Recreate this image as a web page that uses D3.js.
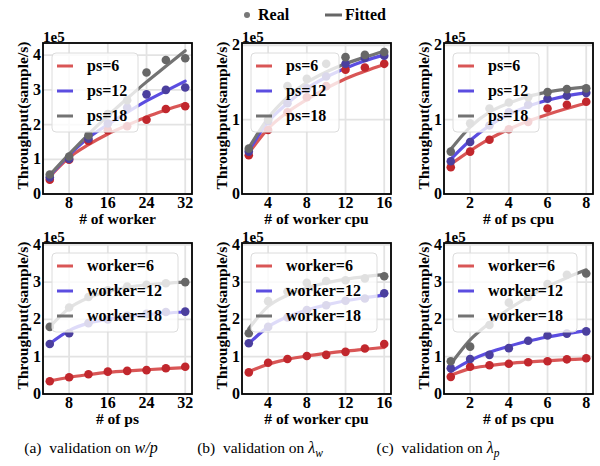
<!DOCTYPE html>
<html>
<head>
<meta charset="utf-8">
<script src="https://cdn.jsdelivr.net/npm/d3@7"></script>
<style>
  body { margin: 0; background: #fff; }
</style>
</head>
<body>
<div class="vis"></div>
<script>
// x values
const xWorker = [4, 8, 12, 16, 20, 24, 28, 32];
const xWorkerCpu = [2, 4, 6, 8, 10, 12, 14, 16];
const xPsCpu = [1, 2, 3, 4, 5, 6, 7, 8];
const xPs = [4, 8, 12, 16, 20, 24, 28, 32];

// (a) top: throughput vs # of worker (1e5)
const wRealPs6 = [0.41, 0.99, 1.53, 1.84, 1.95, 2.14, 2.45, 2.53];
const wRealPs12 = [0.48, 1.01, 1.59, 2.03, 2.49, 2.87, 3.00, 3.07];
const wRealPs18 = [0.56, 1.08, 1.69, 2.30, 2.70, 3.50, 3.86, 3.91];
const wFitPs6 = [0.50, 1.05, 1.42, 1.73, 1.98, 2.22, 2.42, 2.60];
const wFitPs12 = [0.52, 1.12, 1.62, 2.00, 2.35, 2.68, 2.97, 3.25];
const wFitPs18 = [0.55, 1.15, 1.72, 2.25, 2.75, 3.23, 3.68, 4.13];

// (b) top: vs # of worker cpu
const wcRealPs6 = [0.52, 0.86, 1.10, 1.30, 1.45, 1.67, 1.70, 1.75];
const wcRealPs12 = [0.57, 0.98, 1.22, 1.42, 1.58, 1.75, 1.83, 1.86];
const wcRealPs18 = [0.61, 1.00, 1.45, 1.55, 1.75, 1.84, 1.87, 1.91];
const wcFitPs6 = [0.55, 0.88, 1.10, 1.27, 1.42, 1.55, 1.65, 1.74];
const wcFitPs12 = [0.58, 0.97, 1.22, 1.42, 1.57, 1.69, 1.79, 1.87];
const wcFitPs18 = [0.62, 1.02, 1.30, 1.50, 1.64, 1.75, 1.84, 1.92];

// (c) top: vs # of ps cpu
const pcRealPs6 = [0.36, 0.57, 0.73, 0.87, 0.97, 1.15, 1.20, 1.24];
const pcRealPs12 = [0.44, 0.70, 0.92, 1.10, 1.20, 1.28, 1.32, 1.36];
const pcRealPs18 = [0.57, 0.95, 1.15, 1.23, 1.30, 1.37, 1.41, 1.42];
const pcFitPs6 = [0.40, 0.58, 0.74, 0.87, 0.98, 1.07, 1.15, 1.22];
const pcFitPs12 = [0.47, 0.72, 0.92, 1.07, 1.18, 1.26, 1.32, 1.36];
const pcFitPs18 = [0.60, 0.90, 1.10, 1.22, 1.31, 1.37, 1.41, 1.44];

// (a) bottom: vs # of ps
const pRealW6 = [0.34, 0.45, 0.53, 0.60, 0.62, 0.64, 0.69, 0.73];
const pRealW12 = [1.34, 1.63, 1.90, 2.00, 2.10, 2.15, 2.20, 2.21];
const pRealW18 = [1.80, 2.32, 2.60, 2.78, 2.88, 2.93, 2.97, 3.00];
const pFitW6 = [0.35, 0.45, 0.52, 0.58, 0.62, 0.65, 0.68, 0.71];
const pFitW12 = [1.35, 1.70, 1.90, 2.00, 2.08, 2.13, 2.17, 2.20];
const pFitW18 = [1.80, 2.30, 2.58, 2.75, 2.86, 2.93, 2.97, 3.00];

// (b) bottom: vs # of worker cpu
const wcRealW6 = [0.58, 0.84, 0.94, 1.02, 1.05, 1.13, 1.22, 1.34];
const wcRealW12 = [1.36, 1.80, 2.05, 2.25, 2.38, 2.50, 2.56, 2.70];
const wcRealW18 = [1.63, 2.49, 2.75, 2.98, 3.03, 3.05, 3.10, 3.16];
const wcFitW6 = [0.60, 0.80, 0.93, 1.02, 1.09, 1.15, 1.20, 1.25];
const wcFitW12 = [1.35, 1.80, 2.07, 2.25, 2.39, 2.50, 2.58, 2.65];
const wcFitW18 = [1.75, 2.35, 2.65, 2.85, 2.98, 3.08, 3.15, 3.20];

// (c) bottom: vs # of ps cpu
const pcRealW6 = [0.46, 0.73, 0.77, 0.81, 0.85, 0.88, 0.93, 0.96];
const pcRealW12 = [0.69, 0.94, 1.05, 1.23, 1.43, 1.57, 1.62, 1.68];
const pcRealW18 = [0.88, 1.27, 1.85, 2.45, 2.60, 2.95, 3.20, 3.23];
const pcFitW6 = [0.50, 0.68, 0.76, 0.82, 0.86, 0.89, 0.92, 0.94];
const pcFitW12 = [0.60, 0.90, 1.12, 1.28, 1.42, 1.53, 1.62, 1.70];
const pcFitW18 = [0.80, 1.45, 1.90, 2.28, 2.60, 2.88, 3.12, 3.33];

const psLabels = ["ps=6", "ps=12", "ps=18"];
const workerLabels = ["worker=6", "worker=12", "worker=18"];
const yTicksTop = [0, 1, 2, 3, 4];

const pointColors = ["#c1272d", "#4b3f9e", "#676767"];
const lineColors = ["#d95656", "#5b4de0", "#737373"];

const panels = [
    { x: xWorker, real: [wRealPs6, wRealPs12, wRealPs18], fit: [wFitPs6, wFitPs12, wFitPs18],
      labels: psLabels, xTicks: [8, 16, 24, 32], yMax: 4.35, yTicks: [0, 1, 2, 3, 4], xLabel: "# of worker", col: 0, row: 0, legW: 86 },
    { x: xWorkerCpu, real: [wcRealPs6, wcRealPs12, wcRealPs18], fit: [wcFitPs6, wcFitPs12, wcFitPs18],
      labels: psLabels, xTicks: [4, 8, 12, 16], yMax: 2.03, yTicks: [0, 1, 2], xLabel: "# of worker cpu", col: 1, row: 0, legW: 88 },
    { x: xPsCpu, real: [pcRealPs6, pcRealPs12, pcRealPs18], fit: [pcFitPs6, pcFitPs12, pcFitPs18],
      labels: psLabels, xTicks: [2, 4, 6, 8], yMax: 2.03, yTicks: [0, 1, 2], xLabel: "# of ps cpu", col: 2, row: 0, legW: 86 },
    { x: xPs, real: [pRealW6, pRealW12, pRealW18], fit: [pFitW6, pFitW12, pFitW18],
      labels: workerLabels, xTicks: [8, 16, 24, 32], yMax: 4.05, yTicks: yTicksTop, xLabel: "# of ps", col: 0, row: 1, legW: 126 },
    { x: xWorkerCpu, real: [wcRealW6, wcRealW12, wcRealW18], fit: [wcFitW6, wcFitW12, wcFitW18],
      labels: workerLabels, xTicks: [4, 8, 12, 16], yMax: 4.05, yTicks: yTicksTop, xLabel: "# of worker cpu", col: 1, row: 1, legW: 126 },
    { x: xPsCpu, real: [pcRealW6, pcRealW12, pcRealW18], fit: [pcFitW6, pcFitW12, pcFitW18],
      labels: workerLabels, xTicks: [2, 4, 6, 8], yMax: 4.05, yTicks: yTicksTop, xLabel: "# of ps cpu", col: 2, row: 1, legW: 124 },
];

const colLeft = [43, 242, 444];
const rowTop = [43, 243];
const pw = 149, ph = 151;
const serif = "'Liberation Serif', 'Times New Roman', Times, 'DejaVu Serif', 'Noto Serif', serif";

const svg = d3.select(".vis").append("svg")
    .attr("width", 600)
    .attr("height", 466)
    .attr("font-family", serif);

panels.forEach(p => {
    const g = svg.append("g")
        .attr("transform", `translate(${colLeft[p.col]},${rowTop[p.row]})`);

    const x0 = d3.min(p.x), x1 = d3.max(p.x);
    const pad = (x1 - x0) * 0.05;
    const x = d3.scaleLinear().domain([x0 - pad, x1 + pad]).range([0, pw]);
    const y = d3.scaleLinear().domain([0, p.yMax]).range([ph, 0]);

    // grid
    g.selectAll(".gx").data(p.xTicks).enter().append("line")
        .attr("x1", d => x(d)).attr("x2", d => x(d))
        .attr("y1", 0).attr("y2", ph)
        .attr("stroke", "#e3e3e3").attr("stroke-width", 1.8);
    g.selectAll(".gy").data(p.yTicks).enter().append("line")
        .attr("x1", 0).attr("x2", pw)
        .attr("y1", d => y(d)).attr("y2", d => y(d))
        .attr("stroke", "#e3e3e3").attr("stroke-width", 1.8);

    const line = d3.line()
        .x((d, i) => x(p.x[i]))
        .y(d => y(d))
        .curve(d3.curveMonotoneX);

    p.fit.forEach((s, k) => {
        g.append("path")
            .datum(s)
            .attr("d", line)
            .attr("fill", "none")
            .attr("stroke", lineColors[k])
            .attr("stroke-width", 3.2)
            .attr("stroke-linecap", "round");
    });

    p.real.forEach((s, k) => {
        g.selectAll(".pt" + k).data(s).enter().append("circle")
            .attr("cx", (d, i) => x(p.x[i]))
            .attr("cy", d => y(d))
            .attr("r", 4.3)
            .attr("fill", pointColors[k]);
    });

    // legend
    const leg = g.append("g").attr("transform", "translate(9,10)");
    leg.append("rect")
        .attr("width", p.legW).attr("height", 79)
        .attr("rx", 4)
        .attr("fill", "#fff").attr("fill-opacity", 0.8)
        .attr("stroke", "#dcdcdc").attr("stroke-width", 1);
    p.labels.forEach((lab, k) => {
        const yy = 13 + k * 25;
        leg.append("line")
            .attr("x1", 5).attr("x2", 21)
            .attr("y1", yy).attr("y2", yy)
            .attr("stroke", lineColors[k]).attr("stroke-width", 3);
        leg.append("text")
            .attr("x", 35).attr("y", yy + 5)
            .attr("font-size", 16).attr("font-weight", "bold")
            .text(lab);
    });

    // frame
    g.append("rect")
        .attr("width", pw).attr("height", ph)
        .attr("fill", "none").attr("stroke", "#000").attr("stroke-width", 1.8);

    // tick labels
    g.selectAll(".xt").data(p.xTicks).enter().append("text")
        .attr("x", d => x(d)).attr("y", ph + 14)
        .attr("text-anchor", "middle")
        .attr("font-size", 16).attr("font-weight", "bold")
        .text(d => d);
    g.selectAll(".yt").data(p.yTicks).enter().append("text")
        .attr("x", -2).attr("y", d => y(d) + 5)
        .attr("text-anchor", "end")
        .attr("font-size", 16).attr("font-weight", "bold")
        .text(d => d);

    g.append("text")
        .attr("x", 0).attr("y", -1)
        .attr("font-size", 15).attr("font-weight", "bold")
        .text("1e5");

    g.append("text")
        .attr("x", pw / 2).attr("y", ph + 30)
        .attr("text-anchor", "middle")
        .attr("font-size", 15.5).attr("font-weight", "bold")
        .text(p.xLabel);

    g.append("text")
        .attr("transform", `translate(-15,${ph / 2 - 3}) rotate(-90)`)
        .attr("text-anchor", "middle")
        .attr("font-size", 15.5).attr("font-weight", "bold")
        .text("Throughput(sample/s)");
});

// legend above the panels
const keyG = svg.append("g");
keyG.append("circle").attr("cx", 247).attr("cy", 15).attr("r", 3).attr("fill", "#777");
keyG.append("text").attr("x", 258).attr("y", 20)
    .attr("font-size", 16).attr("font-weight", "bold").text("Real");
keyG.append("line").attr("x1", 325).attr("x2", 342).attr("y1", 15).attr("y2", 15)
    .attr("stroke", "#666").attr("stroke-width", 3);
keyG.append("text").attr("x", 345).attr("y", 20)
    .attr("font-size", 16).attr("font-weight", "bold").text("Fitted");

// captions
const captions = [
    { cx: 91, pre: "(a)  validation on ", math: "w/p", sub: null },
    { cx: 260, pre: "(b)  validation on ", math: "λ", sub: "w" },
    { cx: 438, pre: "(c)  validation on ", math: "λ", sub: "p" },
];
captions.forEach(c => {
    const t = svg.append("text")
        .attr("x", c.cx).attr("y", 453)
        .attr("text-anchor", "middle")
        .attr("font-size", 15.5)
        .attr("xml:space", "preserve");
    t.append("tspan").text(c.pre);
    t.append("tspan").attr("font-style", "italic").attr("font-size", 16).text(c.math);
    if (c.sub) {
        t.append("tspan").attr("font-style", "italic")
            .attr("font-size", 11.5).attr("dy", 4).text(c.sub);
    }
});
</script>
</body>
</html>
